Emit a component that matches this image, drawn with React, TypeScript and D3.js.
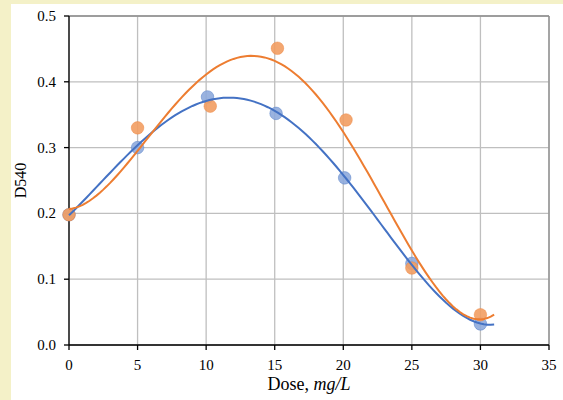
import React from 'react';
import * as d3 from 'd3';

// dose values (mg/L) and absorbance readings
const doseBlue = [0, 5, 10.1, 15.1, 20.1, 25, 30];
const d540Blue = [0.198, 0.300, 0.377, 0.352, 0.254, 0.124, 0.032];
const doseOrange = [0, 5, 10.3, 15.2, 20.2, 25, 30];
const d540Orange = [0.198, 0.330, 0.363, 0.451, 0.342, 0.117, 0.046];

const xTicks = [0, 5, 10, 15, 20, 25, 30, 35];
const yTicks = [0, 0.1, 0.2, 0.3, 0.4, 0.5];
const trendOrder = 4;
const trendEnd = 31;

const width = 563;
const height = 400;
const margin = { left: 69, right: 14, top: 16, bottom: 55 };

// least squares polynomial, like an excel trendline
function polyFit(xs: number[], ys: number[], order: number) {
  const n = order + 1;
  const A: number[][] = Array.from({ length: n }, () => new Array(n + 1).fill(0));
  xs.forEach((x0, k) => {
    const x = x0 / 10;
    for (let i = 0; i < n; i++) {
      for (let j = 0; j < n; j++) A[i][j] += Math.pow(x, i + j);
      A[i][n] += ys[k] * Math.pow(x, i);
    }
  });
  for (let c = 0; c < n; c++) {
    let p = c;
    for (let r = c + 1; r < n; r++) if (Math.abs(A[r][c]) > Math.abs(A[p][c])) p = r;
    [A[c], A[p]] = [A[p], A[c]];
    for (let r = 0; r < n; r++) {
      if (r === c) continue;
      const f = A[r][c] / A[c][c];
      for (let k = c; k <= n; k++) A[r][k] -= f * A[c][k];
    }
  }
  const coef = A.map((row, i) => row[n] / row[i]);
  return (x0: number) => coef.reduce((s, c, i) => s + c * Math.pow(x0 / 10, i), 0);
}

const App = () => {
  const x = d3.scaleLinear().domain([0, 35]).range([margin.left, width - margin.right]);
  const y = d3.scaleLinear().domain([0, 0.5]).range([height - margin.bottom, margin.top]);

  const series = [
    { xs: doseBlue, ys: d540Blue, color: '#4472c4', fill: '#8eaadb' },
    { xs: doseOrange, ys: d540Orange, color: '#ed7d31', fill: '#f29d62' },
  ];

  const steps = d3.range(0, trendEnd + 0.001, 0.25);
  const line = d3.line<[number, number]>().x(d => x(d[0])).y(d => y(d[1]));

  const x0 = margin.left;
  const x1 = width - margin.right;
  const y0 = height - margin.bottom;
  const y1 = margin.top;

  return (
    <div>
      <style>{`body { margin: 0; }`}</style>
      <svg width={width} height={height} style={{ display: 'block', fontFamily: '"Liberation Serif", "Times New Roman", serif' }}>
        <rect x={0} y={0} width={width} height={height} fill="#f4f1c8" />
        <rect x={11} y={4} width={width - 11} height={height - 4} fill="#ffffff" />

        {xTicks.map(t => (
          <line key={'gx' + t} x1={x(t)} x2={x(t)} y1={y1} y2={y0} stroke="#bfbfbf" strokeWidth={1.3} />
        ))}
        {yTicks.map(t => (
          <line key={'gy' + t} x1={x0} x2={x1} y1={y(t)} y2={y(t)} stroke="#bfbfbf" strokeWidth={1.3} />
        ))}
        <line x1={x0} x2={x1} y1={y1} y2={y1} stroke="#8c8c8c" strokeWidth={1.3} />
        <line x1={x1} x2={x1} y1={y1} y2={y0} stroke="#8c8c8c" strokeWidth={1.3} />

        <line x1={x0} x2={x0} y1={y1} y2={y0} stroke="#000" strokeWidth={1.3} />
        <line x1={x0} x2={x1} y1={y0} y2={y0} stroke="#000" strokeWidth={1.3} />
        {xTicks.map(t => (
          <g key={'tx' + t}>
            <line x1={x(t)} x2={x(t)} y1={y0} y2={y0 + 5} stroke="#000" strokeWidth={1.3} />
            <text x={x(t)} y={y0 + 25} textAnchor="middle" fontSize={15}>{t}</text>
          </g>
        ))}
        {yTicks.map(t => (
          <g key={'ty' + t}>
            <line x1={x0 - 5} x2={x0} y1={y(t)} y2={y(t)} stroke="#000" strokeWidth={1.3} />
            <text x={x0 - 13} y={y(t) + 5} textAnchor="end" fontSize={15}>{d3.format('.1f')(t)}</text>
          </g>
        ))}

        {series.map((s, i) => (
          <g key={'pts' + i}>
            {s.xs.map((d, j) => (
              <circle key={j} cx={x(d)} cy={y(s.ys[j])} r={6.3} fill={s.fill} fillOpacity={0.9} stroke={s.color} strokeOpacity={0.4} strokeWidth={1} />
            ))}
          </g>
        ))}
        {series.map((s, i) => {
          const f = polyFit(s.xs, s.ys, trendOrder);
          const pts = steps.map(v => [v, f(v)] as [number, number]);
          return <path key={'tr' + i} d={line(pts) || ''} fill="none" stroke={s.color} strokeWidth={2} />;
        })}

        <text x={(x0 + x1) / 2} y={390} textAnchor="middle" fontSize={18}>
          Dose, <tspan fontStyle="italic">mg/L</tspan>
        </text>
        <text transform={`translate(26, ${(y0 + y1) / 2}) rotate(-90)`} textAnchor="middle" fontSize={16}>D540</text>
      </svg>
    </div>
  );
};

export default App;
